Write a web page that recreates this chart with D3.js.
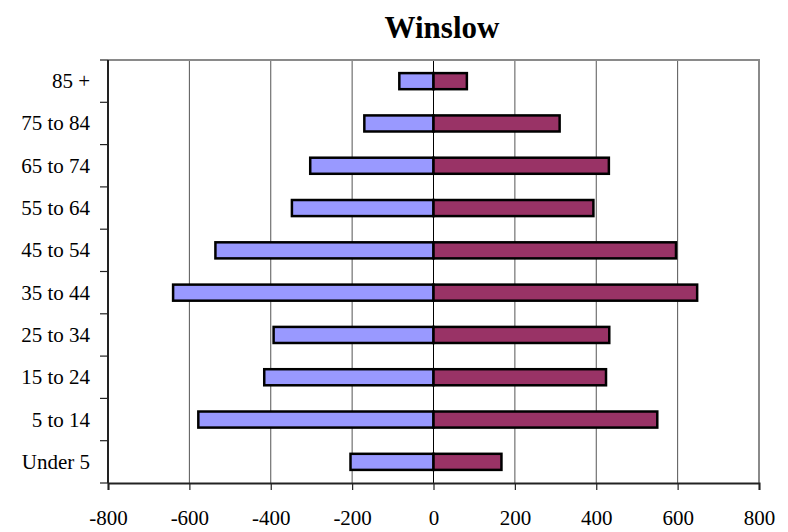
<!DOCTYPE html>
<html>
<head>
<meta charset="utf-8">
<script src="https://cdn.jsdelivr.net/npm/d3@7"></script>
<style>
  html, body { margin: 0; padding: 0; background: #fff; }
  svg { display: block; }
  text { font-family: "Liberation Serif", "Times New Roman", serif; fill: #000; }
</style>
</head>
<body>
<svg id="chart" width="788" height="532"></svg>
<script>
// Age groups, top to bottom
const ageGroups = ["85 +", "75 to 84", "65 to 74", "55 to 64", "45 to 54",
                   "35 to 44", "25 to 34", "15 to 24", "5 to 14", "Under 5"];
// Left side (negative) and right side population counts
const leftValues  = [-84, -170, -303, -348, -536, -640, -393, -416, -578, -204];
const rightValues = [82, 310, 431, 393, 596, 648, 432, 424, 550, 167];
const xTicks = [-800, -600, -400, -200, 0, 200, 400, 600, 800];
const title = "Winslow";

const svg = d3.select("#chart");
const plot = { left: 108, right: 759, top: 60, bottom: 483 };

const x = d3.scaleLinear().domain([-800, 800]).range([plot.left, plot.right]);
// Bars sit centred within each category band
const y = d3.scaleBand().domain(ageGroups).range([plot.top, plot.bottom])
  .paddingInner(0.62).paddingOuter(0.31);
const yBand = d3.scaleBand().domain(ageGroups).range([plot.top, plot.bottom]);

// Title
svg.append("text")
  .attr("x", 442).attr("y", 38)
  .attr("text-anchor", "middle")
  .style("font-size", "31px").style("font-weight", "bold")
  .text(title);

// Vertical gridlines
svg.append("g").selectAll("line")
  .data(xTicks.filter(d => d > -800 && d < 800))
  .join("line")
  .attr("x1", d => x(d)).attr("x2", d => x(d))
  .attr("y1", plot.top).attr("y2", plot.bottom)
  .attr("stroke", d => d === 0 ? "#000" : "#555")
  .attr("stroke-width", 1);

// Plot frame: top and right edges
svg.append("path")
  .attr("d", `M${plot.left},${plot.top}H${plot.right}V${plot.bottom}`)
  .attr("fill", "none").attr("stroke", "#8a8a8a").attr("stroke-width", 2);

// Bars
const rows = ageGroups.map((g, i) => ({ g, l: leftValues[i], r: rightValues[i] }));
const bars = svg.append("g");
bars.selectAll("rect.left")
  .data(rows).join("rect").attr("class", "left")
  .attr("x", d => x(d.l)).attr("width", d => x(0) - x(d.l))
  .attr("y", d => y(d.g)).attr("height", y.bandwidth())
  .attr("fill", "#9999FF").attr("stroke", "#000").attr("stroke-width", 2.5);
bars.selectAll("rect.right")
  .data(rows).join("rect").attr("class", "right")
  .attr("x", x(0)).attr("width", d => x(d.r) - x(0))
  .attr("y", d => y(d.g)).attr("height", y.bandwidth())
  .attr("fill", "#993366").attr("stroke", "#000").attr("stroke-width", 2.5);

// Bottom axis (plain hyphen for negatives)
const xAxis = svg.append("g")
  .attr("transform", `translate(0,${plot.bottom})`)
  .call(d3.axisBottom(x).tickValues(xTicks).tickSize(7).tickPadding(20)
    .tickFormat(d => String(d)));
xAxis.select(".domain").attr("stroke", "#222").attr("stroke-width", 2);
xAxis.selectAll(".tick line").attr("stroke", "#222").attr("stroke-width", 1.2);
xAxis.selectAll("text").style("font-size", "21px")
  .style("font-family", '"Liberation Serif", "Times New Roman", serif');

// Left axis with ticks at category boundaries
const boundaries = ageGroups.map(g => yBand(g)).concat([plot.bottom]);
const yAxisG = svg.append("g");
yAxisG.append("line")
  .attr("x1", plot.left).attr("x2", plot.left)
  .attr("y1", plot.top).attr("y2", plot.bottom)
  .attr("stroke", "#222").attr("stroke-width", 2);
yAxisG.selectAll("line.tick")
  .data(boundaries).join("line").attr("class", "tick")
  .attr("x1", plot.left - 8).attr("x2", plot.left)
  .attr("y1", d => d).attr("y2", d => d)
  .attr("stroke", "#222").attr("stroke-width", 1.2);
yAxisG.selectAll("text")
  .data(ageGroups).join("text")
  .attr("x", 90)
  .attr("y", d => yBand(d) + yBand.bandwidth() / 2 + 7)
  .attr("text-anchor", "end")
  .style("font-size", "21px")
  .text(d => d);
</script>
</body>
</html>
